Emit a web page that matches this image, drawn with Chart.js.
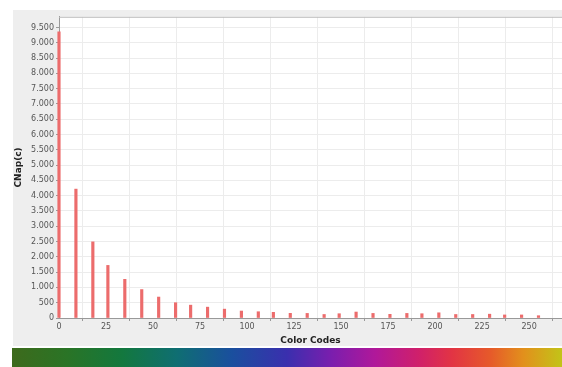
<!DOCTYPE html>
<html>
<head>
<meta charset="utf-8">
<script src="https://cdn.jsdelivr.net/npm/chart.js@4"></script>
<style>
  html, body { margin: 0; padding: 0; background: #fff; overflow: hidden; }
  #panel { position: absolute; left: 13px; top: 10px; width: 549px; height: 336px; background: #eeeeee; }
  #strip {
    position: absolute; left: 12px; top: 348px; width: 550px; height: 19px;
    background: linear-gradient(to right, #3d6a1c 0%, #2a7426 10%, #13783e 20%, #0f6e72 30%, #1a4f9e 40%, #3a2fae 50%, #7a1eae 58%, #b0189a 66%, #d0206a 74%, #e23444 80%, #e65a2a 87%, #e2901c 93%, #c2c418 100%);
  }
</style>
</head>
<body>
<div id="panel"><canvas id="histChart" width="549" height="336"></canvas></div>
<div id="strip"></div>
<script>
const colorCodes = [0, 9, 18, 26, 35, 44, 53, 62, 70, 79, 88, 97, 106, 114, 123, 132, 141, 149, 158, 167, 176, 185, 193, 202, 211, 220, 229, 237, 246, 255];
const cnapValues = [9360, 4215, 2490, 1720, 1265, 930, 685, 500, 420, 355, 290, 228, 205, 185, 152, 150, 115, 140, 195, 150, 120, 150, 140, 170, 115, 115, 125, 100, 100, 75];
const xTicks = [0, 25, 50, 75, 100, 125, 150, 175, 200, 225, 250];
const yTicks = [0, 500, 1000, 1500, 2000, 2500, 3000, 3500, 4000, 4500, 5000, 5500, 6000, 6500, 7000, 7500, 8000, 8500, 9000, 9500];

function dotThousands(v) {
  return String(v).replace(/\B(?=(\d{3})+(?!\d))/g, '.');
}

// white plot background + grey frame like the original
const plotFrame = {
  id: 'plotFrame',
  beforeDraw(chart) {
    const { ctx, chartArea: a } = chart;
    ctx.save();
    ctx.fillStyle = '#ffffff';
    ctx.fillRect(a.left, a.top, a.right - a.left, a.bottom - a.top);
    ctx.restore();
  },
  afterDraw(chart) {
    const { ctx, chartArea: a } = chart;
    ctx.save();
    ctx.strokeStyle = '#bdbdbd';
    ctx.lineWidth = 1;
    ctx.beginPath();
    ctx.moveTo(a.left, a.top + 0.5);
    ctx.lineTo(a.right, a.top + 0.5);
    ctx.stroke();
    ctx.restore();
  }
};

const ctx = document.getElementById('histChart').getContext('2d');
new Chart(ctx, {
  type: 'bar',
  data: {
    datasets: [{
      data: colorCodes.map((c, i) => ({ x: c, y: cnapValues[i] })),
      backgroundColor: '#ec6c6c',
      barThickness: 2.5,
      clip: false
    }]
  },
  plugins: [plotFrame],
  options: {
    responsive: false,
    animation: false,
    layout: { padding: { top: 5, right: 0, left: 0, bottom: 0 } },
    plugins: { legend: { display: false }, tooltip: { enabled: false } },
    scales: {
      x: {
        type: 'linear',
        min: 0,
        max: 267.5,
        offset: false,
        grid: { color: '#ececec', tickLength: 3, tickColor: '#999' },
        border: { color: '#999' },
        afterBuildTicks(scale) { scale.ticks = xTicks.map(v => ({ value: v })); },
        ticks: {
          autoSkip: false,
          maxRotation: 0,
          padding: 1,
          color: '#555',
          font: { family: 'DejaVu Sans', size: 8 }
        },
        title: {
          display: true,
          text: 'Color Codes',
          color: '#222',
          padding: { top: 0, bottom: 0 },
          font: { family: 'DejaVu Sans', size: 9, weight: 'bold' }
        },
        afterFit(scale) { scale.height = 28; }
      },
      y: {
        min: 0,
        max: 9850,
        grid: { color: '#ececec', tickLength: 3, tickColor: '#999' },
        border: { color: '#999' },
        afterBuildTicks(scale) { scale.ticks = yTicks.map(v => ({ value: v })); },
        ticks: {
          autoSkip: false,
          padding: 2,
          color: '#555',
          font: { family: 'DejaVu Sans', size: 8 },
          callback: v => dotThousands(v)
        },
        title: {
          display: true,
          text: 'CNap(c)',
          color: '#222',
          padding: { top: 0, bottom: 0 },
          font: { family: 'DejaVu Sans', size: 9, weight: 'bold' }
        },
        afterFit(scale) { scale.width = 46; }
      }
    }
  }
});
</script>
</body>
</html>
